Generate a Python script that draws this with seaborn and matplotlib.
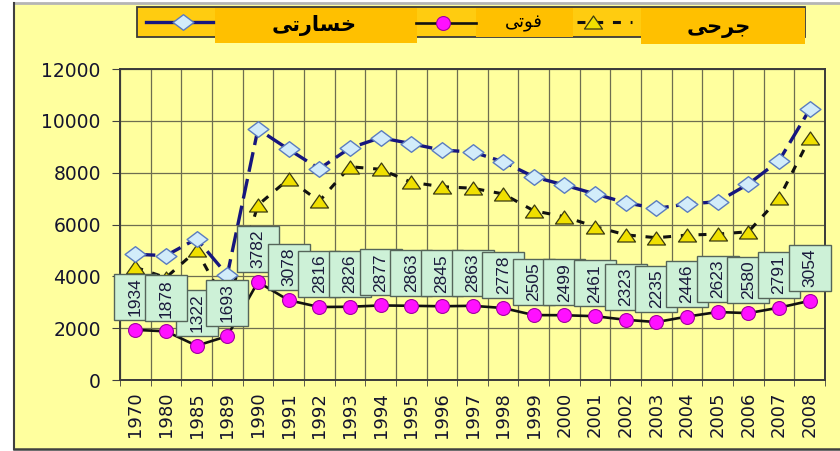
import numpy as np
import pandas as pd
import matplotlib
matplotlib.use("Agg")
import matplotlib.pyplot as plt
import matplotlib.transforms as mtransforms
from matplotlib.patches import Rectangle
from matplotlib.path import Path
import seaborn as sns

# ---------------- data ----------------
years = ["1970", "1980", "1985", "1989", "1990", "1991", "1992", "1993", "1994",
         "1995", "1996", "1997", "1998", "1999", "2000", "2001", "2002", "2003",
         "2004", "2005", "2006", "2007", "2008"]
khasarati = [4850, 4800, 5450, 4050, 9680, 8900, 8150, 8950, 9350, 9120, 8870,
             8800, 8420, 7840, 7520, 7180, 6840, 6620, 6790, 6880, 7560, 8460, 10440]
jarhi = [4350, 3950, 5000, 2850, 6750, 7750, 6900, 8230, 8130, 7630, 7460,
         7400, 7180, 6530, 6300, 5920, 5600, 5490, 5590, 5630, 5720, 7010, 9320]
fotee = [1934, 1878, 1322, 1693, 3782, 3078, 2816, 2826, 2877, 2863, 2845,
         2863, 2778, 2505, 2499, 2461, 2323, 2235, 2446, 2623, 2580, 2791, 3054]
yticks = [0, 2000, 4000, 6000, 8000, 10000, 12000]

# legend labels (Arabic-script words written with presentation forms so they join)
lbl_khasarati = "\uFBFD\uFE97\uFEAD\uFE8E\uFEB4\uFEA7"   # خسارتی
lbl_fotee = "\uFBFD\uFE97\uFEEE\uFED3"                    # فوتی
lbl_jarhi = "\uFBFD\uFEA3\uFEAE\uFE9F"                    # جرحی

df = pd.DataFrame({"idx": np.arange(len(years)), "year": years,
                   "khasarati": khasarati, "jarhi": jarhi, "fotee": fotee})

# ---------------- style ----------------
plt.rcParams["font.family"] = ["Liberation Sans", "DejaVu Sans"]
BG = "#ffff9e"
W, H = 840, 451
fig = plt.figure(figsize=(W / 100, H / 100), dpi=100)
fig.patch.set_facecolor("white")

# background panel
bax = fig.add_axes([0, 0, 1, 1], zorder=-10)
bax.set_xlim(0, W); bax.set_ylim(H, 0); bax.axis("off")
bax.add_patch(Rectangle((14, 3), W - 14, 446, facecolor=BG, edgecolor="none"))

# main axes
ax = fig.add_axes([120 / W, (H - 380) / H, 705 / W, 311 / H], zorder=1)
ax.set_facecolor(BG)

diamond = Path([(-1, 0), (0, 0.75), (1, 0), (0, -0.75), (-1, 0)],
               [Path.MOVETO, Path.LINETO, Path.LINETO, Path.LINETO, Path.CLOSEPOLY])
tri = Path([(-1, -0.72), (0, 0.72), (1, -0.72), (-1, -0.72)],
           [Path.MOVETO, Path.LINETO, Path.LINETO, Path.CLOSEPOLY])

NAVY = "#16167e"
sns.lineplot(data=df, x="idx", y="jarhi", ax=ax, color="#111111", lw=2.2,
             linestyle=(0, (2.6, 3.2)), marker=tri, ms=13, mfc="#f0e000",
             mec="#3a3a10", mew=0.9, errorbar=None, zorder=3)
sns.lineplot(data=df, x="idx", y="khasarati", ax=ax, color=NAVY, lw=2.4,
             linestyle=(0, (6, 2.2)), marker=diamond, ms=15, mfc="#d2ecfa",
             mec="#5a7cc0", mew=1.0, errorbar=None, zorder=4)
sns.lineplot(data=df, x="idx", y="fotee", ax=ax, color="#111111", lw=1.9,
             marker="o", ms=10, mfc="#ff10ff", mec="#a000a0", mew=0.8,
             errorbar=None, zorder=5)

# value boxes above the death points
order = [2] + [i for i in range(len(fotee)) if i != 2]
for k, i in enumerate(order):
    v = fotee[i]
    tr = fig.dpi_scale_trans + mtransforms.ScaledTranslation(i, v, ax.transData)
    r = Rectangle((-0.21, 0.33 - 0.23), 0.42, 0.46, transform=tr,
                  facecolor="#cdf1d7", edgecolor="#55655a", lw=1.0,
                  zorder=10 + 2 * k, clip_on=False)
    ax.add_artist(r)
    ax.annotate(str(v), (i, v), xytext=(0, 33 * 0.72), textcoords="offset points",
                rotation=90, ha="center", va="center", fontsize=12.5,
                color="#1a1a3c", zorder=11 + 2 * k, annotation_clip=False)

ax.set_xlim(-0.5, len(years) - 0.5)
ax.set_ylim(0, 12000)
ax.set_xticks(range(len(years)))
ax.set_xticklabels(years, rotation=90, family="DejaVu Sans", fontsize=13,
                   color="#14142e")
ax.set_xticks(np.arange(-0.5, len(years), 1.0), minor=True)
ax.tick_params(axis="x", which="major", length=0, pad=8.5)
ax.tick_params(axis="x", which="minor", length=4, color="#404040")
ax.set_yticks(yticks)
ax.set_yticklabels([str(t) for t in yticks], family="DejaVu Sans",
                   fontsize=13.5, color="#14142e")
ax.tick_params(axis="y", length=5.8, pad=8, color="#404040")
ax.set_xlabel("")
ax.set_ylabel("")
ax.grid(False)
ax.grid(True, which="minor", axis="x", color="#6e6e50", lw=0.9)
ax.grid(True, which="major", axis="y", color="#6e6e50", lw=0.9)
ax.set_axisbelow(True)
for s in ax.spines.values():
    s.set_color("#3a3a3a")
    s.set_linewidth(1.4)
leg = ax.get_legend()
if leg is not None:
    leg.remove()

# ---------------- overlay: legend and panel borders ----------------
lax = fig.add_axes([0, 0, 1, 1], zorder=50)
lax.set_xlim(0, W); lax.set_ylim(H, 0); lax.axis("off")
lax.patch.set_alpha(0)
lax.plot([14, W], [2.5, 2.5], color="#b5b5b5", lw=2)
lax.plot([14, 14], [2.5, 449], color="#404040", lw=1.5)
lax.plot([14, W], [449, 449], color="#404040", lw=1.8)

lax.add_patch(Rectangle((137, 7), 668, 30, facecolor="#ffcc10", edgecolor="#3a3a3a", lw=1.3))
lax.add_patch(Rectangle((215, 8), 202, 35, facecolor="#ffc000", edgecolor="none"))
lax.add_patch(Rectangle((476, 8), 97, 29, facecolor="#ffc000", edgecolor="none"))
lax.add_patch(Rectangle((641, 8), 164, 36, facecolor="#ffc000", edgecolor="none"))

lax.plot([146, 213], [22, 22], color=NAVY, lw=2.4)
lax.plot([183], [22], marker=diamond, ms=15, mfc="#d2ecfa", mec="#5a7cc0", mew=1.0)
lax.plot([416, 476], [23, 23], color="#111111", lw=1.9)
lax.plot([443], [23], marker="o", ms=10, mfc="#ff10ff", mec="#a000a0", mew=0.8)
lax.plot([577, 632], [22, 22], color="#111111", lw=2.2, linestyle=(0, (2.6, 3.2)))
lax.plot([593], [22], marker=tri, ms=13, mfc="#f0e000", mec="#3a3a10", mew=0.9)

lax.text(314, 25, lbl_khasarati, ha="center", va="center", fontsize=15,
         fontweight="bold", family=["DejaVu Sans"], color="black")
lax.text(524, 23, lbl_fotee, ha="center", va="center", fontsize=13,
         family=["DejaVu Sans"], color="black")
lax.text(719, 28, lbl_jarhi, ha="center", va="center", fontsize=15,
         fontweight="bold", family=["DejaVu Sans"], color="black")

fig.savefig("out.png", dpi=100, facecolor=fig.get_facecolor())
